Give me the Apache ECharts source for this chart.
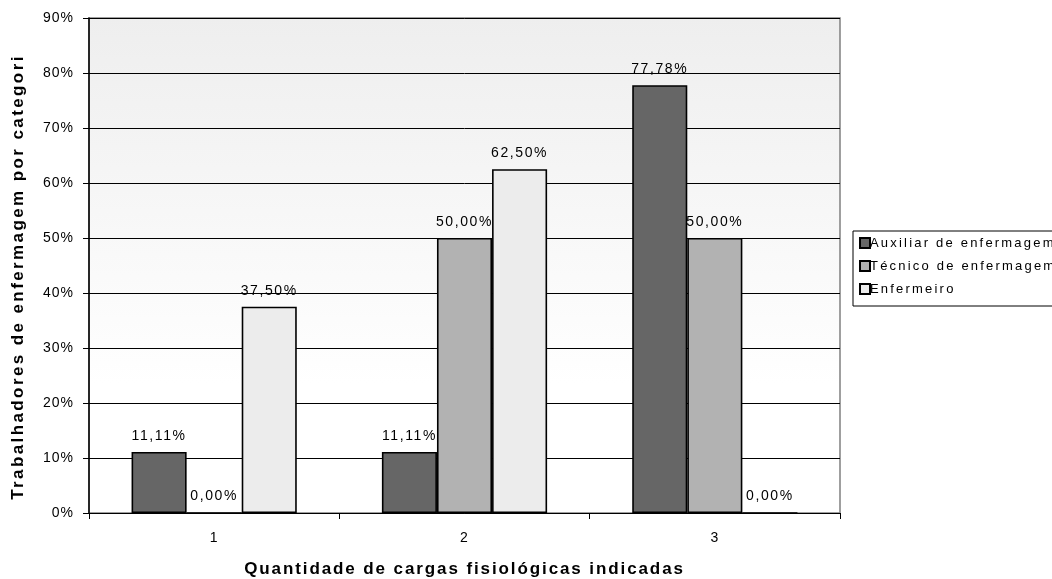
<!DOCTYPE html>
<html>
<head>
<meta charset="utf-8">
<script src="https://cdn.jsdelivr.net/npm/echarts@6/dist/echarts.min.js"></script>
<style>html,body{margin:0;padding:0;background:#fff}#c{width:1052px;height:579px}</style>
</head>
<body>
<div id="c"></div>
<script>
const categories = ['1', '2', '3'];
const auxiliar = [11.11, 11.11, 77.78];
const tecnico = [0.00, 50.00, 50.00];
const enfermeiro = [37.50, 62.50, 0.00];
const seriesNames = ['Auxiliar de enfermagem', 'Técnico de enfermagem', 'Enfermeiro'];
const yTitle = 'Trabalhadores de enfermagem por categori';
const xTitle = 'Quantidade de cargas fisiológicas indicadas';

// wide letter spacing as in the reference rendering
function spacingFor(t) {
  if (t === yTitle) return '2.4px';
  if (t === xTitle) return '1.9px';
  if (seriesNames.indexOf(t) >= 0) return '2.2px';
  if (/^\d+,\d+%$/.test(t)) return '1.6px';
  return '1px';
}
(function () {
  const proto = CanvasRenderingContext2D.prototype;
  const orig = proto.fillText;
  proto.fillText = function (t, x, y, m) {
    if ('letterSpacing' in this) this.letterSpacing = spacingFor(String(t));
    return m === undefined ? orig.call(this, t, x, y) : orig.call(this, t, x, y, m);
  };
})();

const font = 'Liberation Sans, Arial, sans-serif';
const chart = echarts.init(document.getElementById('c'));
const lbl = {
  show: true, position: 'top', distance: 9, color: '#000', fontFamily: font, fontSize: 14,
  formatter: p => p.value.toFixed(2).replace('.', ',') + '%'
};
function mk(name, data, color) {
  return {
    name, type: 'bar', data, barGap: '0%', barCategoryGap: '34%',
    itemStyle: { color, borderColor: '#000', borderWidth: 1.6 },
    label: lbl, emphasis: { disabled: true }
  };
}
chart.setOption({
  animation: false,
  textStyle: { fontFamily: font },
  grid: {
    left: 89, right: 212, top: 18, bottom: 66, show: true,
    outerBoundsMode: 'none', containLabel: false,
    borderColor: '#808080', borderWidth: 1.5,
    backgroundColor: new echarts.graphic.LinearGradient(0, 0, 0, 1, [
      { offset: 0, color: '#eeeeee' },
      { offset: 0.74, color: '#ffffff' },
      { offset: 1, color: '#ffffff' }
    ])
  },
  legend: {
    orient: 'vertical', left: 853, top: 231, icon: 'rect',
    itemWidth: 10, itemHeight: 10, itemGap: 9,
    padding: [5, 60, 10, 6],
    borderColor: '#000', borderWidth: 1,
    textStyle: { fontFamily: font, fontSize: 13, lineHeight: 14, color: '#000', padding: [0, 0, 0, -5] },
    data: seriesNames
  },
  xAxis: {
    type: 'category', data: categories,
    name: xTitle, nameLocation: 'middle', nameGap: 48,
    nameTextStyle: { fontFamily: font, fontSize: 17, fontWeight: 'bold', color: '#000' },
    axisLine: { lineStyle: { color: '#000', width: 1 } },
    axisTick: { show: true, alignWithLabel: false, length: 6, lineStyle: { color: '#000' } },
    axisLabel: { color: '#000', fontSize: 14, margin: 18, fontFamily: font }
  },
  yAxis: {
    type: 'value', min: 0, max: 90, interval: 10,
    axisLine: { show: true, lineStyle: { color: '#000', width: 1.5 } },
    axisTick: { show: true, length: 6, lineStyle: { color: '#000' } },
    axisLabel: { color: '#000', fontSize: 14, margin: 15, fontFamily: font, formatter: '{value}%' },
    splitLine: { lineStyle: { color: '#000', width: 1 } }
  },
  graphic: [{
    type: 'text', x: 18, y: 277, rotation: Math.PI / 2,
    style: { text: yTitle, font: 'bold 17px ' + font, fill: '#000', align: 'center', verticalAlign: 'middle' }
  }],
  series: [
    mk(seriesNames[0], auxiliar, '#666666'),
    mk(seriesNames[1], tecnico, '#b2b2b2'),
    mk(seriesNames[2], enfermeiro, '#ececec')
  ]
});
</script>
</body>
</html>
